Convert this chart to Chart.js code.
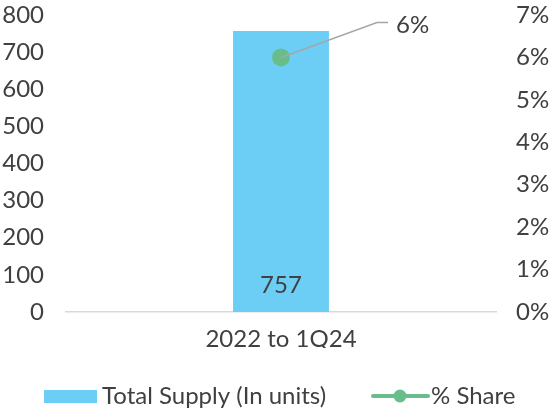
<!DOCTYPE html>
<html>
<head>
<meta charset="utf-8">
<script src="https://cdn.jsdelivr.net/npm/chart.js@4"></script>
<style>
html,body{margin:0;padding:0;background:#fff;}
#wrap{position:relative;width:551px;height:408px;}
</style>
</head>
<body>
<div id="wrap"><canvas id="c" width="551" height="408"></canvas></div>
<script>
const categories = ["2022 to 1Q24"];
const totalSupply = [757];
const shareValues = [0.06];
const shareLabels = ["6%"];
const seriesNames = ["Total Supply (In units)", "% Share"];

const FONT = 'Lato, "DejaVu Sans", sans-serif';
const FS = 24;
const TEXT = '#404040';
const BAR = '#6CCEF5';
const GREEN = '#68BE8B';

const labelPlugin = {
  id: 'labels',
  afterDatasetsDraw(chart) {
    const ctx = chart.ctx;
    ctx.save();
    ctx.font = FS + 'px ' + FONT;
    ctx.fillStyle = TEXT;
    chart.getDatasetMeta(1).data.forEach((el, i) => {
      ctx.textAlign = 'center';
      ctx.textBaseline = 'middle';
      ctx.fillText(String(totalSupply[i]), el.x, el.base - 27);
    });
    chart.getDatasetMeta(0).data.forEach((el, i) => {
      ctx.strokeStyle = '#A6A6A6';
      ctx.lineWidth = 1.5;
      ctx.beginPath();
      ctx.moveTo(el.x, el.y);
      ctx.lineTo(el.x + 96, el.y - 35);
      ctx.lineTo(el.x + 107, el.y - 35);
      ctx.stroke();
      ctx.textAlign = 'left';
      ctx.textBaseline = 'middle';
      ctx.fillText(shareLabels[i], el.x + 115, el.y - 32);
    });
    ctx.restore();
  },
  afterDraw(chart) {
    const ctx = chart.ctx;
    ctx.save();
    ctx.font = FS + 'px ' + FONT;
    ctx.textBaseline = 'middle';
    ctx.textAlign = 'left';
    const y = 396;
    ctx.fillStyle = BAR;
    ctx.fillRect(44, y - 6, 53, 13);
    ctx.fillStyle = TEXT;
    ctx.fillText(seriesNames[0], 102, y);
    ctx.strokeStyle = GREEN;
    ctx.lineWidth = 4;
    ctx.lineCap = 'round';
    ctx.beginPath();
    ctx.moveTo(373, y);
    ctx.lineTo(428, y);
    ctx.stroke();
    ctx.fillStyle = GREEN;
    ctx.beginPath();
    ctx.arc(400, y, 6.5, 0, Math.PI * 2);
    ctx.fill();
    ctx.fillStyle = TEXT;
    ctx.fillText(seriesNames[1], 431, y);
    ctx.restore();
  }
};

function fitY(w) {
  return function (s) { s.width = w; s.paddingTop = 0; s.paddingBottom = 0; };
}

new Chart(document.getElementById('c'), {
  data: {
    labels: categories,
    datasets: [
      {
        type: 'line',
        label: seriesNames[1],
        data: shareValues,
        yAxisID: 'y2',
        borderColor: GREEN,
        backgroundColor: GREEN,
        pointRadius: 7.5,
        pointHoverRadius: 7.5,
        borderWidth: 3,
        order: 0
      },
      {
        type: 'bar',
        label: seriesNames[0],
        data: totalSupply,
        yAxisID: 'y',
        backgroundColor: BAR,
        categoryPercentage: 1,
        barPercentage: 0.223,
        order: 1
      }
    ]
  },
  plugins: [labelPlugin],
  options: {
    responsive: false,
    animation: false,
    events: [],
    layout: { padding: { top: 15, bottom: 60, left: 0, right: 0 } },
    plugins: { legend: { display: false }, tooltip: { enabled: false } },
    scales: {
      x: {
        grid: { display: false, drawTicks: false },
        border: { display: true, color: '#D9D9D9', width: 1.5 },
        ticks: { color: TEXT, font: { family: FONT, size: FS }, padding: 13 },
        afterFit(s) { s.height = 36; s.paddingLeft = 0; s.paddingRight = 0; }
      },
      y: {
        position: 'left',
        min: 0, max: 800,
        grid: { display: false, drawTicks: false },
        border: { display: false },
        ticks: { stepSize: 100, color: TEXT, font: { family: FONT, size: FS }, padding: 22 },
        afterFit: fitY(66)
      },
      y2: {
        position: 'right',
        min: 0, max: 0.07,
        grid: { display: false, drawTicks: false },
        border: { display: false },
        ticks: {
          stepSize: 0.01, color: TEXT, font: { family: FONT, size: FS }, padding: 20,
          callback: v => Math.round(v * 100) + '%'
        },
        afterFit: fitY(55)
      }
    }
  }
});
</script>
</body>
</html>
